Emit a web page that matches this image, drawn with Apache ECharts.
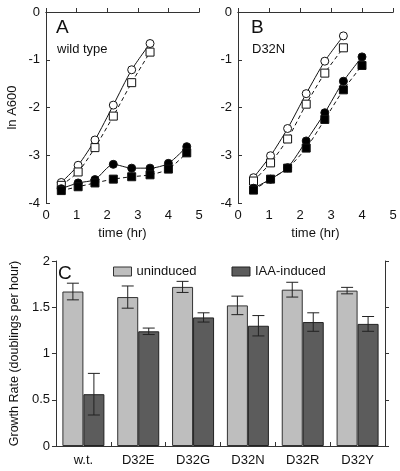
<!DOCTYPE html>
<html><head><meta charset="utf-8">
<script src="https://cdn.jsdelivr.net/npm/echarts@6/dist/echarts.min.js"></script>
<style>html,body{margin:0;padding:0;background:#fff}#c{width:400px;height:471px}</style>
</head><body><div id="c"></div>
<script>
// Panel A (wild type)
const timeA = [0.5, 1.05, 1.6, 2.2, 2.8, 3.4, 4.0, 4.6];
const wtOpenCirc = [-3.57, -3.21, -2.68, -1.95, -1.21, -0.66];
const wtOpenSq = [-3.63, -3.35, -2.84, -2.18, -1.48, -0.84];
const wtFillCirc = [-3.70, -3.58, -3.51, -3.19, -3.27, -3.27, -3.17, -2.82];
const wtFillSq = [-3.74, -3.66, -3.58, -3.50, -3.45, -3.41, -3.29, -2.95];
// Panel B (D32N)
const timeB = [0.5, 1.05, 1.6, 2.2, 2.8, 3.4, 4.0];
const nOpenCirc = [-3.47, -3.01, -2.44, -1.71, -1.03, -0.50];
const nOpenSq = [-3.54, -3.16, -2.66, -1.93, -1.28, -0.75];
const nFillCirc = [-3.69, -3.50, -3.26, -2.70, -2.11, -1.45, -0.94];
const nFillSq = [-3.73, -3.50, -3.27, -2.85, -2.25, -1.63, -1.12];
// Panel C (growth rates)
const strains = ['w.t.', 'D32E', 'D32G', 'D32N', 'D32R', 'D32Y'];
const uninduced = [1.67, 1.61, 1.72, 1.52, 1.69, 1.68];
const uninducedErr = [0.09, 0.12, 0.06, 0.10, 0.08, 0.035];
const induced = [0.56, 1.24, 1.39, 1.30, 1.34, 1.32];
const inducedErr = [0.225, 0.035, 0.05, 0.11, 0.10, 0.08];

const FONT = 'Liberation Sans, Arial, sans-serif';
const BW = 21;
const pairs = (t, v) => v.map((y, i) => [t[i], y]);

function lineSeries(xi, t, v, sym, filled, dashed) {
  return {
    type: 'line', xAxisIndex: xi, yAxisIndex: xi * 2,
    data: pairs(t, v), smooth: 0.25,
    symbol: sym, symbolSize: 8,
    showSymbol: true,
    itemStyle: { color: filled ? '#000' : '#fff', borderColor: '#111', borderWidth: 1 },
    lineStyle: { color: '#111', width: 1, type: dashed ? [4, 3] : 'solid' },
    z: 3
  };
}

const gridsLR = [{ left: 46, top: 12, width: 153, height: 191 }, { left: 238, top: 12, width: 155, height: 191 }];
const xAxes = [], yAxes = [];
gridsLR.forEach((g, i) => {
  xAxes.push({
    type: 'value', gridIndex: i, min: 0, max: 5, interval: 1, position: 'bottom',
    name: 'time (hr)', nameLocation: 'middle', nameGap: 24,
    nameTextStyle: { fontFamily: FONT, fontSize: 13, color: '#111' },
    axisLine: { lineStyle: { color: '#333' } },
    axisTick: { inside: true, length: 4, lineStyle: { color: '#333' } },
    axisLabel: { fontFamily: FONT, fontSize: 13, color: '#111', margin: 6 },
    splitLine: { show: false }
  });
});
gridsLR.forEach((g, i) => {
  xAxes.push({
    type: 'value', gridIndex: i, min: 0, max: 5, interval: 1, position: 'top',
    axisLine: { lineStyle: { color: '#333' } },
    axisTick: { inside: false, length: 3, lineStyle: { color: '#333' } },
    axisLabel: { show: false }, splitLine: { show: false }
  });
});
gridsLR.forEach((g, i) => {
  yAxes.push({
    type: 'value', gridIndex: i, min: -4, max: 0, interval: 1, position: 'left',
    name: i === 0 ? 'ln A600' : '', nameLocation: 'middle', nameGap: 27,
    nameTextStyle: { fontFamily: FONT, fontSize: 13, color: '#111' },
    axisLine: { show: true, lineStyle: { color: '#333' } },
    axisTick: { show: true, inside: true, length: 4, lineStyle: { color: '#333' } },
    axisLabel: { fontFamily: FONT, fontSize: 13, color: '#111', margin: 6 },
    splitLine: { show: false }
  });
  yAxes.push({
    type: 'value', gridIndex: i, min: -4, max: 0, interval: 1, position: 'right',
    axisLine: { show: true, lineStyle: { color: '#333' } },
    axisTick: { show: true, inside: false, length: 4, lineStyle: { color: '#333' } },
    axisLabel: { show: false }, splitLine: { show: false }
  });
});
// Panel C axes
xAxes.push({
  type: 'category', gridIndex: 2, data: strains, position: 'bottom',
  axisLine: { lineStyle: { color: '#555' } },
  axisTick: { show: true, inside: true, length: 3, lineStyle: { color: '#555' } },
  axisLabel: { fontFamily: FONT, fontSize: 13, color: '#111', margin: 8 }
});
xAxes.push({
  type: 'category', gridIndex: 2, data: strains, position: 'top',
  axisLine: { lineStyle: { color: '#333' } },
  axisTick: { show: true, inside: false, length: 4, lineStyle: { color: '#333' } },
  axisLabel: { show: false }
});
yAxes.push({
  type: 'value', gridIndex: 2, min: 0, max: 2, interval: 0.5, position: 'left',
  name: 'Growth Rate (doublings per hour)', nameLocation: 'middle', nameGap: 32,
  nameTextStyle: { fontFamily: FONT, fontSize: 12.5, color: '#111' },
  axisLine: { show: true, lineStyle: { color: '#333' } },
  axisTick: { show: true, inside: false, length: 4, lineStyle: { color: '#333' } },
  axisLabel: { fontFamily: FONT, fontSize: 13, color: '#111', margin: 6 },
  splitLine: { show: false }
});
yAxes.push({
  type: 'value', gridIndex: 2, min: 0, max: 2, interval: 0.5, position: 'right',
  axisLine: { show: true, lineStyle: { color: '#333' } },
  axisTick: { show: true, inside: false, length: 4, lineStyle: { color: '#333' } },
  axisLabel: { show: false }, splitLine: { show: false }
});

function errSeries(vals, errs, sign) {
  return {
    type: 'custom', xAxisIndex: 4, yAxisIndex: 4, z: 5,
    data: vals.map((v, i) => [i, v, errs[i]]),
    encode: { x: 0, y: 1 },
    renderItem: function (params, api) {
      const i = api.value(0), v = api.value(1), e = api.value(2);
      const hi = api.coord([i, v + e]), lo = api.coord([i, v - e]);
      const x = hi[0] + sign * BW / 2, cw = 6;
      const st = { stroke: '#222', lineWidth: 1 };
      return { type: 'group', children: [
        { type: 'line', shape: { x1: x, y1: hi[1], x2: x, y2: lo[1] }, style: st },
        { type: 'line', shape: { x1: x - cw, y1: hi[1], x2: x + cw, y2: hi[1] }, style: st },
        { type: 'line', shape: { x1: x - cw, y1: lo[1], x2: x + cw, y2: lo[1] }, style: st }
      ] };
    }
  };
}

const option = {
  animation: false,
  textStyle: { fontFamily: FONT },
  grid: [
    Object.assign({}, gridsLR[0]),
    Object.assign({}, gridsLR[1]),
    { left: 52, top: 261, width: 333, height: 185 }
  ],
  xAxis: xAxes,
  yAxis: yAxes,
  legend: {
    left: 108, top: 260, itemWidth: 18, itemHeight: 9, itemGap: 35,
    textStyle: { fontFamily: FONT, fontSize: 13, color: '#111' },
    data: [
      { name: 'uninduced', icon: 'rect', itemStyle: { color: '#bebebe', borderColor: '#333', borderWidth: 1 } },
      { name: 'IAA-induced', icon: 'rect', itemStyle: { color: '#5c5c5c', borderColor: '#222', borderWidth: 1 } }
    ]
  },
  graphic: [
    { type: 'text', left: 56, top: 18, style: { text: 'A', fontFamily: FONT, fontSize: 19, fill: '#111' } },
    { type: 'text', left: 57, top: 43, style: { text: 'wild type', fontFamily: FONT, fontSize: 13, fill: '#111' } },
    { type: 'text', left: 251, top: 18, style: { text: 'B', fontFamily: FONT, fontSize: 19, fill: '#111' } },
    { type: 'text', left: 252, top: 43, style: { text: 'D32N', fontFamily: FONT, fontSize: 13, fill: '#111' } },
    { type: 'text', left: 58, top: 264, style: { text: 'C', fontFamily: FONT, fontSize: 19, fill: '#111' } }
  ],
  series: [
    lineSeries(0, timeA, wtOpenCirc, 'circle', false, false),
    lineSeries(0, timeA, wtOpenSq, 'rect', false, true),
    lineSeries(0, timeA, wtFillCirc, 'circle', true, false),
    lineSeries(0, timeA, wtFillSq, 'rect', true, true),
    lineSeries(1, timeB, nOpenCirc, 'circle', false, false),
    lineSeries(1, timeB, nOpenSq, 'rect', false, true),
    lineSeries(1, timeB, nFillCirc, 'circle', true, false),
    lineSeries(1, timeB, nFillSq, 'rect', true, true),
    {
      name: 'uninduced', type: 'bar', xAxisIndex: 4, yAxisIndex: 4, data: uninduced,
      barWidth: BW, barGap: '0%',
      itemStyle: { color: '#bebebe', borderColor: '#333', borderWidth: 1 }
    },
    {
      name: 'IAA-induced', type: 'bar', xAxisIndex: 4, yAxisIndex: 4, data: induced,
      barWidth: BW, barGap: '0%',
      itemStyle: { color: '#5c5c5c', borderColor: '#222', borderWidth: 1 }
    },
    errSeries(uninduced, uninducedErr, -1),
    errSeries(induced, inducedErr, 1)
  ]
};
echarts.init(document.getElementById('c'), null, { renderer: 'canvas' }).setOption(option);
</script>
</body></html>
